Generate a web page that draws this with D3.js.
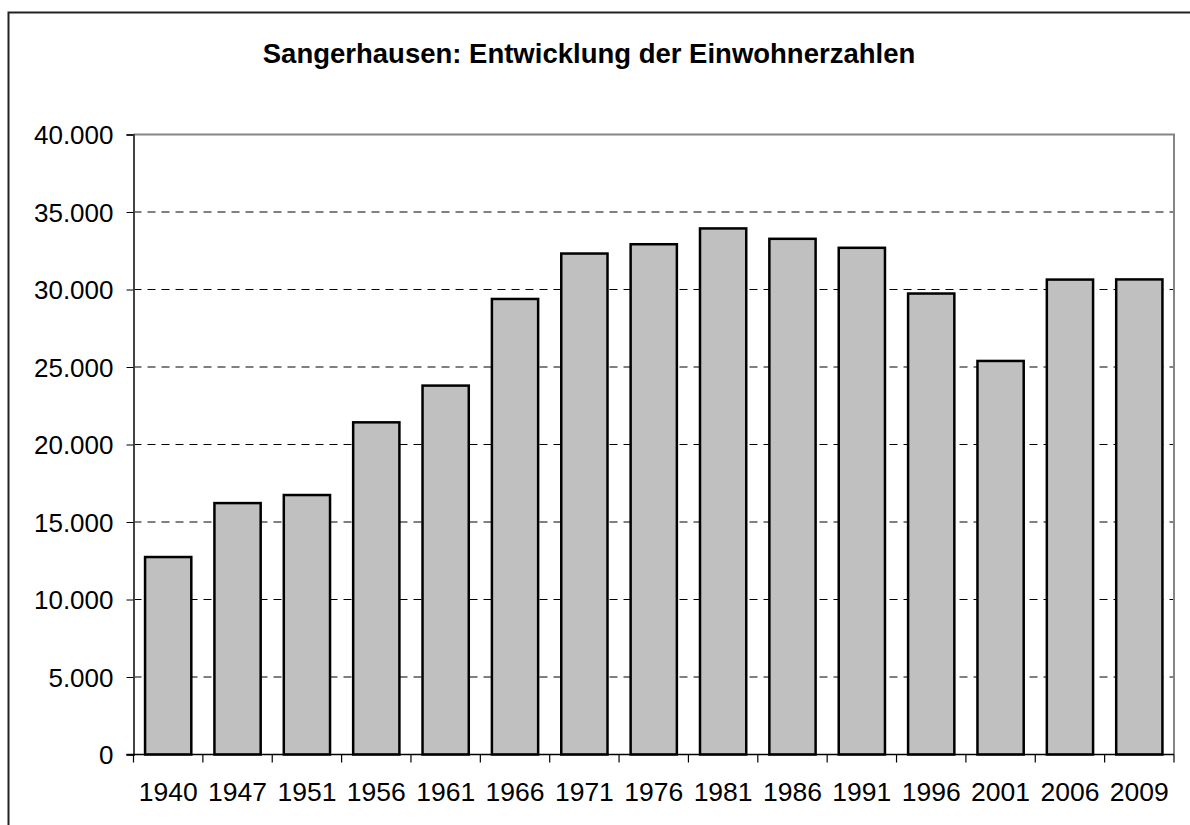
<!DOCTYPE html>
<html>
<head>
<meta charset="utf-8">
<script src="https://cdn.jsdelivr.net/npm/d3@7"></script>
<style>
  body { margin: 0; background: #fff; }
  svg text { font-family: "Liberation Sans", Arial, sans-serif; fill: #000; }
</style>
</head>
<body>
<div id="vis"></div>
<script>
const FRAME_WIDTH = 1190;
const FRAME_HEIGHT = 825;
const PLOT = {left: 133.5, right: 1174, top: 134.5, bottom: 754.5};

// data
const YEARS = ["1940", "1947", "1951", "1956", "1961", "1966", "1971", "1976",
               "1981", "1986", "1991", "1996", "2001", "2006", "2009"];
const POPULATION = [12740, 16220, 16740, 21430, 23800, 29390, 32320, 32920,
                    33940, 33270, 32690, 29740, 25390, 30640, 30650];
const Y_TICKS = [0, 5000, 10000, 15000, 20000, 25000, 30000, 35000, 40000];
const TITLE = "Sangerhausen: Entwicklung der Einwohnerzahlen";

const data = YEARS.map((y, i) => ({year: y, value: POPULATION[i]}));

const svg = d3.select("#vis")
  .append("svg")
    .attr("width", FRAME_WIDTH)
    .attr("height", FRAME_HEIGHT);

// outer chart frame (runs off the right and bottom of the picture)
svg.append("rect")
  .attr("x", 8.5).attr("y", 12.5)
  .attr("width", 1300).attr("height", 1000)
  .attr("fill", "none")
  .attr("stroke", "#222")
  .attr("stroke-width", 2);

svg.append("text")
  .attr("x", 589).attr("y", 63)
  .attr("text-anchor", "middle")
  .attr("font-size", 27.5)
  .attr("font-weight", "bold")
  .text(TITLE);

const X_SCALE = d3.scaleBand()
  .domain(YEARS)
  .range([PLOT.left, PLOT.right])
  .paddingInner(1 / 3)
  .paddingOuter(1 / 6);

const Y_SCALE = d3.scaleLinear()
  .domain([0, 40000])
  .range([PLOT.bottom, PLOT.top]);

// dashed gridlines
svg.append("g")
  .selectAll("line")
  .data(Y_TICKS.filter(t => t > 0 && t < 40000))
  .enter()
  .append("line")
    .attr("x1", PLOT.left).attr("x2", PLOT.right)
    .attr("y1", d => Y_SCALE(d)).attr("y2", d => Y_SCALE(d))
    .attr("stroke", "#000")
    .attr("stroke-width", 1)
    .attr("stroke-dasharray", "8,6");

// plot area top and right edges
svg.append("path")
  .attr("d", `M${PLOT.left},${Y_SCALE(40000)}H${PLOT.right}V${PLOT.bottom}`)
  .attr("fill", "none")
  .attr("stroke", "#858585")
  .attr("stroke-width", 2);

// bars
svg.append("g")
  .selectAll("rect")
  .data(data)
  .enter()
  .append("rect")
    .attr("x", d => X_SCALE(d.year))
    .attr("y", d => Y_SCALE(d.value))
    .attr("width", X_SCALE.bandwidth())
    .attr("height", d => Y_SCALE(0) - Y_SCALE(d.value))
    .attr("fill", "#c0c0c0")
    .attr("stroke", "#000")
    .attr("stroke-width", 2.5);

// y axis
const yAxis = svg.append("g")
  .attr("transform", `translate(${PLOT.left},0)`)
  .call(d3.axisLeft(Y_SCALE)
    .tickValues(Y_TICKS)
    .tickSize(7)
    .tickPadding(13)
    .tickFormat(d => d3.format(",")(d).replace(/,/g, ".")));
yAxis.select(".domain").attr("stroke", "#444").attr("stroke-width", 2);
yAxis.selectAll(".tick line").attr("stroke", "#000");
yAxis.selectAll("text").attr("font-size", 26).attr("dy", "0.35em");

// x axis: ticks between categories, labels centred under bars
const gap = X_SCALE.step() - X_SCALE.bandwidth();
const bounds = YEARS.map(y => X_SCALE(y) - gap / 2).concat([PLOT.right]);

const xAxis = svg.append("g");
xAxis.append("line")
  .attr("x1", PLOT.left - 7).attr("x2", PLOT.right)
  .attr("y1", PLOT.bottom).attr("y2", PLOT.bottom)
  .attr("stroke", "#000")
  .attr("stroke-width", 1.5);
xAxis.selectAll(".xtick")
  .data(bounds)
  .enter()
  .append("line")
    .attr("class", "xtick")
    .attr("x1", d => d).attr("x2", d => d)
    .attr("y1", PLOT.bottom).attr("y2", PLOT.bottom + 8)
    .attr("stroke", "#000")
    .attr("stroke-width", 1.2);
xAxis.selectAll(".xlabel")
  .data(YEARS)
  .enter()
  .append("text")
    .attr("class", "xlabel")
    .attr("x", d => X_SCALE(d) + X_SCALE.bandwidth() / 2)
    .attr("y", 801)
    .attr("text-anchor", "middle")
    .attr("font-size", 26.5)
    .text(d => d);
</script>
</body>
</html>
